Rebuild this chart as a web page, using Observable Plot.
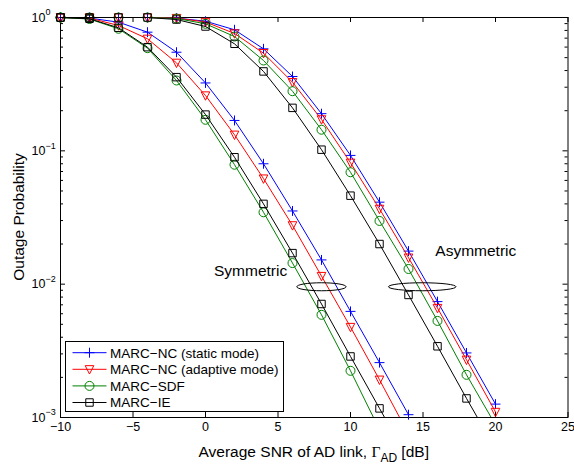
<!DOCTYPE html>
<html>
<head>
<meta charset="utf-8">
<script src="https://cdn.jsdelivr.net/npm/d3@7"></script>
<script src="https://cdn.jsdelivr.net/npm/@observablehq/plot@0.6"></script>
<style>
html,body{margin:0;padding:0;background:#fff;}
#chart{width:574px;height:466px;}
</style>
</head>
<body>
<div id="chart"></div>
<script>
// ---------- data ----------
const snrSym  = [-10,-8,-6,-4,-2,0,2,4,6,8,10,12,14];
const snrAsym = [-10,-8,-6,-4,-2,0,2,4,6,8,10,12,14,16,18,20];

const seriesNames  = ["MARC\u2212NC (static mode)", "MARC\u2212NC (adaptive mode)", "MARC\u2212SDF", "MARC\u2212IE"];
const seriesColors = ["#0000ff", "#ff0000", "#008000", "#000000"];

// Symmetric case
const symStatic   = [1, 0.99, 0.922, 0.776, 0.549, 0.323, 0.169, 0.080, 0.0354, 0.0152, 0.00625, 0.00258, 0.00105];
const symAdaptive = [1, 0.99, 0.871, 0.692, 0.457, 0.260, 0.132, 0.0619, 0.0276, 0.0115, 0.00477, 0.00192, 0.00075];
const symSDF      = [1, 0.974, 0.823, 0.589, 0.337, 0.171, 0.0787, 0.0346, 0.0144, 0.00589, 0.00224, 0.00081, 0.0003];
const symIE       = [1, 0.978, 0.837, 0.599, 0.357, 0.187, 0.0895, 0.040, 0.0171, 0.0071, 0.00287, 0.00117, 0.00048];

// Asymmetric case
const asymStatic   = [1, 1, 1, 1, 0.99, 0.938, 0.809, 0.582, 0.361, 0.190, 0.0924, 0.0412, 0.0177, 0.0074, 0.00305, 0.00126];
const asymAdaptive = [1, 1, 1, 1, 0.99, 0.925, 0.759, 0.540, 0.327, 0.172, 0.0814, 0.0367, 0.0158, 0.00662, 0.00271, 0.00110];
const asymSDF      = [1, 1, 1, 1, 0.983, 0.897, 0.720, 0.476, 0.280, 0.144, 0.0691, 0.0298, 0.0130, 0.00530, 0.00209, 0.00088];
const asymIE       = [1, 1, 1, 1, 0.966, 0.856, 0.635, 0.394, 0.210, 0.102, 0.0461, 0.0200, 0.0083, 0.00342, 0.00139, 0.00058];

const xTicks = [-10, -5, 0, 5, 10, 15, 20, 25];
const yTicks = [1, 0.1, 0.01, 0.001];
const yTickExponents = ["0", "\u22121", "\u22122", "\u22123"];
const yMinor = [];
for (const dec of [0.001, 0.01, 0.1]) for (let m = 2; m <= 9; m++) yMinor.push(m * dec);

const annotations = [
  {x: 3.11, v: 0.01265, label: "Symmetric"},
  {x: 18.64, v: 0.0177, label: "Asymmetric"}
];
const ellipses = [
  {x: 8.03, v: 0.00948, halfWidth: 1.70},
  {x: 14.98, v: 0.00948, halfWidth: 2.33}
];

// ---------- styling ----------
const FONT = '"Liberation Sans", Arial, Helvetica, sans-serif';
const W = 574, H = 466, mL = 60, mR = 6.5, mT = 17, mB = 49;
const FW = W - mL - mR, FH = H - mT - mB;

const triDown = {draw(ctx, size) {
  const r = Math.sqrt(size / Math.PI);
  ctx.moveTo(-r, -0.85 * r); ctx.lineTo(r, -0.85 * r); ctx.lineTo(0, 1.1 * r); ctx.closePath();
}};
const seriesSymbols = ["plus", triDown, "circle", "square"];
const d3Symbols = [d3.symbolPlus, triDown, d3.symbolCircle, d3.symbolSquare];
const seriesR = [3.3, 4.3, 4.5, 4.2];

const symSets  = [symStatic, symAdaptive, symSDF, symIE];
const asymSets = [asymStatic, asymAdaptive, asymSDF, asymIE];
const toRows = (xs, vs) => xs.map((x, i) => ({x, v: vs[i]}));

const marks = [
  Plot.frame({stroke: "black", strokeWidth: 1}),
  Plot.tickX(xTicks, {x: d => d, insetTop: FH - 5, stroke: "black"}),
  Plot.tickX(xTicks, {x: d => d, insetBottom: FH - 5, stroke: "black"}),
  Plot.tickY(yTicks, {y: d => d, insetRight: FW - 5, stroke: "black"}),
  Plot.tickY(yTicks, {y: d => d, insetLeft: FW - 5, stroke: "black"}),
  Plot.tickY(yMinor, {y: d => d, insetRight: FW - 3, stroke: "black"}),
  Plot.tickY(yMinor, {y: d => d, insetLeft: FW - 3, stroke: "black"}),
  Plot.axisX({ticks: xTicks, tickSize: 0, tickPadding: 5, fontSize: 12.5, label: null}),
  Plot.text(yTicks, {y: d => d, frameAnchor: "left", text: () => "10", textAnchor: "end", dx: -15, fontSize: 12.5, fill: "black"}),
  Plot.text(yTicks.map((v, i) => ({v, e: yTickExponents[i]})), {y: "v", frameAnchor: "left", text: "e", textAnchor: "start", dx: -15, dy: -5, fontSize: 9, fill: "black"})
];

for (let s = 0; s < 4; s++) {
  for (const rows of [toRows(snrSym, symSets[s]), toRows(snrAsym, asymSets[s])]) {
    marks.push(Plot.line(rows, {x: "x", y: "v", stroke: seriesColors[s], strokeWidth: 1, clip: true}));
    marks.push(Plot.dot(rows.filter(d => d.v >= 0.001), {x: "x", y: "v", symbol: seriesSymbols[s], r: seriesR[s], stroke: seriesColors[s], fill: "none", strokeWidth: 1}));
  }
}
marks.push(Plot.text(annotations, {x: "x", y: "v", text: "label", fontSize: 15.5, fill: "black"}));

const plot = Plot.plot({
  width: W, height: H,
  marginLeft: mL, marginRight: mR, marginTop: mT, marginBottom: mB,
  x: {domain: [-10, 25]},
  y: {type: "log", domain: [0.001, 1], axis: null},
  style: {fontFamily: FONT, fontSize: "12.5px", color: "black", background: "white", overflow: "visible"},
  marks
});
document.getElementById("chart").appendChild(plot);

// ---------- annotations via the plot's own scales ----------
const xs = plot.scale("x"), ys = plot.scale("y");
const svg = d3.select(plot);

for (const e of ellipses) {
  const cx = xs.apply(e.x);
  svg.append("ellipse")
    .attr("cx", cx).attr("cy", ys.apply(e.v))
    .attr("rx", xs.apply(e.x + e.halfWidth) - cx).attr("ry", 4)
    .attr("fill", "none").attr("stroke", "black").attr("stroke-width", 1);
}

// axis labels
const xl = svg.append("text")
  .attr("x", mL + FW / 2).attr("y", 456.5)
  .attr("text-anchor", "middle")
  .attr("font-family", FONT).attr("font-size", 15.5).attr("fill", "black");
xl.append("tspan").text("Average SNR of AD link, ");
xl.append("tspan").attr("font-family", '"Liberation Serif", "Times New Roman", serif').text("\u0393");
xl.append("tspan").attr("font-size", 12).attr("dy", 5).text("AD");
xl.append("tspan").attr("dy", -5).text(" [dB]");

svg.append("text")
  .attr("transform", `translate(23.5,${mT + FH / 2}) rotate(-90)`)
  .attr("text-anchor", "middle")
  .attr("font-family", FONT).attr("font-size", 15.5).attr("fill", "black")
  .text("Outage Probability");

// legend
const lg = svg.append("g").attr("text-anchor", "start");
lg.append("rect").attr("x", 65.5).attr("y", 341.5).attr("width", 218).attr("height", 70)
  .attr("fill", "white").attr("stroke", "black").attr("stroke-width", 1);
const rowsY = [352.7, 369.3, 385.9, 402.5];
for (let s = 0; s < 4; s++) {
  const y = rowsY[s];
  lg.append("line").attr("x1", 72.5).attr("x2", 106.5).attr("y1", y).attr("y2", y)
    .attr("stroke", seriesColors[s]).attr("stroke-width", 1);
  lg.append("path")
    .attr("d", d3.symbol(d3Symbols[s], Math.PI * seriesR[s] * seriesR[s])())
    .attr("transform", `translate(89.5,${y})`)
    .attr("fill", "none").attr("stroke", seriesColors[s]).attr("stroke-width", 1);
  lg.append("text").attr("x", 110).attr("y", y).attr("dy", "0.36em")
    .attr("text-anchor", "start")
    .attr("font-family", FONT).attr("font-size", 13.5).attr("fill", "black")
    .text(seriesNames[s]);
}
</script>
</body>
</html>
